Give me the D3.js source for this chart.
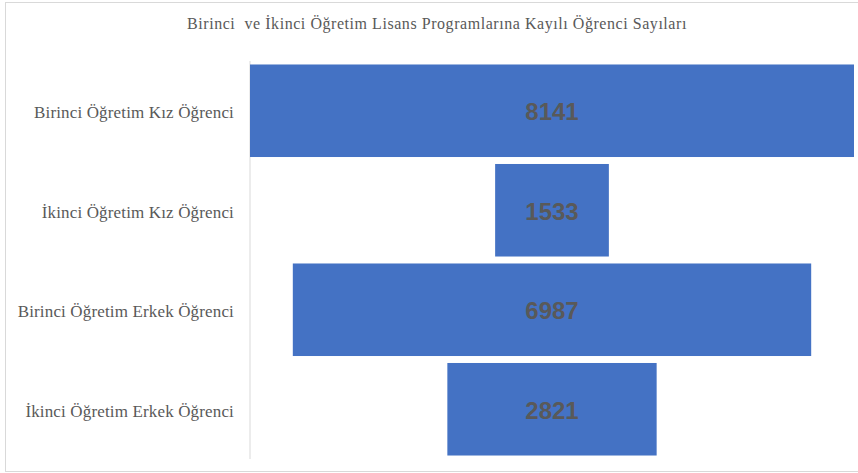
<!DOCTYPE html>
<html>
<head>
<meta charset="utf-8">
<script src="https://cdn.jsdelivr.net/npm/d3@7"></script>
<style>
  body { margin: 0; background: #fff; }
  .serif { font-family: 'Liberation Serif', 'Times New Roman', serif; }
</style>
</head>
<body>
<div id="chart"></div>
<script>
const categories = [
  "Birinci Öğretim Kız Öğrenci",
  "İkinci Öğretim Kız Öğrenci",
  "Birinci Öğretim Erkek Öğrenci",
  "İkinci Öğretim Erkek Öğrenci"
];
const values = [8141, 1533, 6987, 2821];
const title = "Birinci\u00a0 ve İkinci Öğretim Lisans Programlarına Kayılı Öğrenci Sayıları";

const width = 858, height = 473;
const svg = d3.select('#chart').append('svg')
  .attr('width', width)
  .attr('height', height);

// outer frame
svg.append('rect')
  .attr('x', 5.5).attr('y', 2.5)
  .attr('width', 860).attr('height', 469)
  .attr('fill', '#fff')
  .attr('stroke', '#d9d9d9');

svg.append('text')
  .attr('class', 'serif')
  .attr('x', 437)
  .attr('y', 29)
  .attr('text-anchor', 'middle')
  .attr('font-size', '16px')
  .attr('letter-spacing', '0.55px')
  .attr('fill', '#595959')
  .text(title);

const axisX = 250;
const plotRight = 854;
const centerX = (axisX + plotRight) / 2;

const y = d3.scaleBand()
  .domain(categories)
  .range([61, 459])
  .paddingInner(0.07)
  .paddingOuter(0.035);

const w = d3.scaleLinear()
  .domain([0, d3.max(values)])
  .range([0, plotRight - axisX]);

// vertical axis line
svg.append('line')
  .attr('x1', axisX).attr('x2', axisX)
  .attr('y1', 61).attr('y2', 459)
  .attr('stroke', '#d9d9d9')
  .attr('stroke-width', 1);

const rows = svg.append('g').selectAll('g')
  .data(categories)
  .join('g');

rows.append('rect')
  .attr('x', (d, i) => centerX - w(values[i]) / 2)
  .attr('y', d => y(d))
  .attr('width', (d, i) => w(values[i]))
  .attr('height', y.bandwidth())
  .attr('fill', '#4472c4');

rows.append('text')
  .attr('x', centerX)
  .attr('y', d => y(d) + y.bandwidth() / 2)
  .attr('dy', '0.4em')
  .attr('text-anchor', 'middle')
  .attr('font-family', "'Liberation Sans', Arial, sans-serif")
  .attr('font-weight', 'bold')
  .attr('font-size', '24px')
  .attr('fill', '#595959')
  .text((d, i) => values[i]);

rows.append('text')
  .attr('class', 'serif')
  .attr('x', 234)
  .attr('y', d => y(d) + y.bandwidth() / 2 + 7.4)
  .attr('text-anchor', 'end')
  .attr('font-size', '17px')
  .attr('letter-spacing', '0.15px')
  .attr('fill', '#595959')
  .text(d => d);
</script>
</body>
</html>
